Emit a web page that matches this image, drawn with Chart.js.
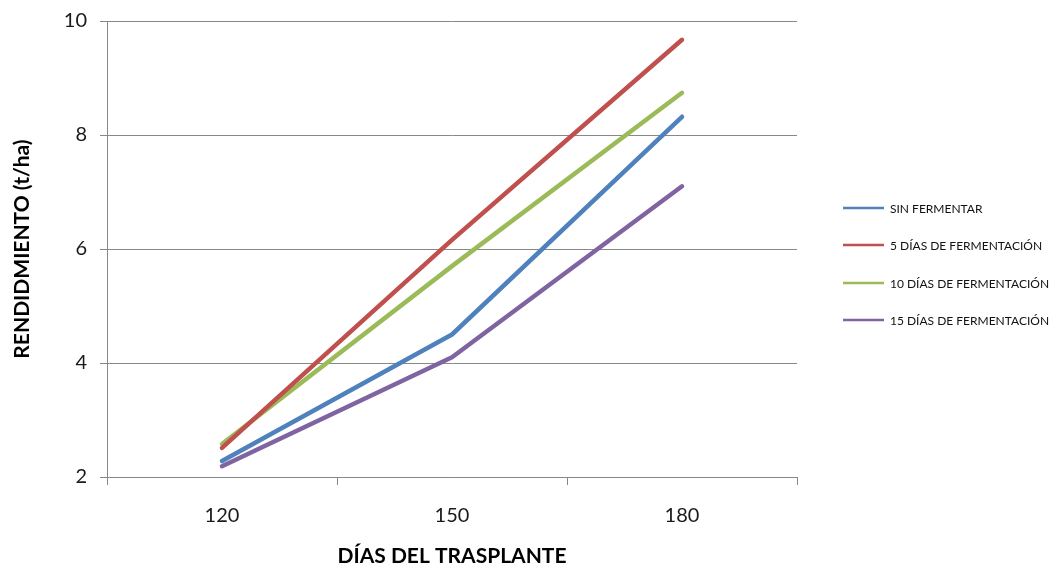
<!DOCTYPE html>
<html>
<head>
<meta charset="utf-8">
<script src="https://cdn.jsdelivr.net/npm/chart.js@4.4.1/dist/chart.umd.min.js"></script>
<style>
  html, body { margin: 0; padding: 0; background: #fff; }
  #wrap { width: 1057px; height: 569px; position: relative; }
</style>
</head>
<body>
<div id="wrap"><canvas id="c" width="1057" height="569"></canvas></div>
<script>
// Días después del trasplante
const categories = ['120', '150', '180'];

// Rendimiento (t/ha) por tratamiento
const sinFermentar = [2.28, 4.50, 8.32];
const cincoDias = [2.51, 6.16, 9.67];
const diezDias = [2.58, 5.70, 8.74];
const quinceDias = [2.19, 4.10, 7.10];

const seriesNames = [
  'SIN FERMENTAR',
  '5 DÍAS DE FERMENTACIÓN',
  '10 DÍAS DE FERMENTACIÓN',
  '15 DÍAS DE FERMENTACIÓN'
];
const yTicks = [2, 4, 6, 8, 10];

const colors = ['#4F81BD', '#C0504D', '#9BBB59', '#8064A2'];
const FONT = 'Lato, "Open Sans", sans-serif';

function ds(label, data, color) {
  return {
    label, data,
    borderColor: color,
    backgroundColor: color,
    borderWidth: 4.5,
    pointRadius: 0,
    pointHoverRadius: 0,
    tension: 0,
    borderCapStyle: 'round',
    borderJoinStyle: 'round'
  };
}

// Leyenda dibujada a la derecha del área de trazado
const sideLegend = {
  id: 'sideLegend',
  afterDraw(chart) {
    const ctx = chart.ctx;
    const rows = [208, 245, 283, 320];
    ctx.save();
    ctx.font = '12px ' + FONT;
    ctx.textBaseline = 'middle';
    ctx.fillStyle = '#111';
    chart.data.datasets.forEach((d, i) => {
      const y = rows[i];
      ctx.strokeStyle = d.borderColor;
      ctx.lineWidth = 2.5;
      ctx.beginPath();
      ctx.moveTo(843, y);
      ctx.lineTo(884, y);
      ctx.stroke();
      ctx.fillText(d.label, 890, y + 1);
    });
    ctx.restore();
  }
};

new Chart(document.getElementById('c'), {
  type: 'line',
  data: {
    labels: categories,
    datasets: [
      ds(seriesNames[0], sinFermentar, colors[0]),
      ds(seriesNames[1], cincoDias, colors[1]),
      ds(seriesNames[2], diezDias, colors[2]),
      ds(seriesNames[3], quinceDias, colors[3])
    ]
  },
  options: {
    responsive: false,
    animation: false,
    layout: { padding: { left: 10, right: 260, top: 20, bottom: 0 } },
    plugins: {
      legend: { display: false },
      tooltip: { enabled: false }
    },
    scales: {
      x: {
        offset: true,
        grid: {
          offset: true,
          drawOnChartArea: false,
          drawTicks: true,
          tickLength: 8,
          color: '#888',
          lineWidth: 1
        },
        border: { color: '#888', width: 1 },
        ticks: {
          color: '#1a1a1a',
          font: { family: FONT, size: 20 },
          padding: 19
        },
        title: {
          display: true,
          text: 'DÍAS DEL TRASPLANTE',
          color: '#000',
          font: { family: FONT, size: 21, weight: 'bold' },
          padding: { top: 12, bottom: 0 }
        },
        afterFit(scale) { scale.height = 92; }
      },
      y: {
        min: 2,
        max: 10,
        afterBuildTicks(scale) {
          scale.ticks = yTicks.map(v => ({ value: v }));
        },
        grid: {
          color: '#888',
          lineWidth: 1,
          tickLength: 7
        },
        border: { color: '#888', width: 1 },
        ticks: {
          color: '#1a1a1a',
          font: { family: FONT, size: 20, lineHeight: 0.8 },
          padding: 13
        },
        title: {
          display: true,
          text: 'RENDIDMIENTO (t/ha)',
          color: '#000',
          font: { family: FONT, size: 21, weight: 'bold' },
          padding: { top: 0, bottom: 0 }
        },
        afterFit(scale) { scale.width = 97; }
      }
    }
  },
  plugins: [sideLegend]
});
</script>
</body>
</html>
